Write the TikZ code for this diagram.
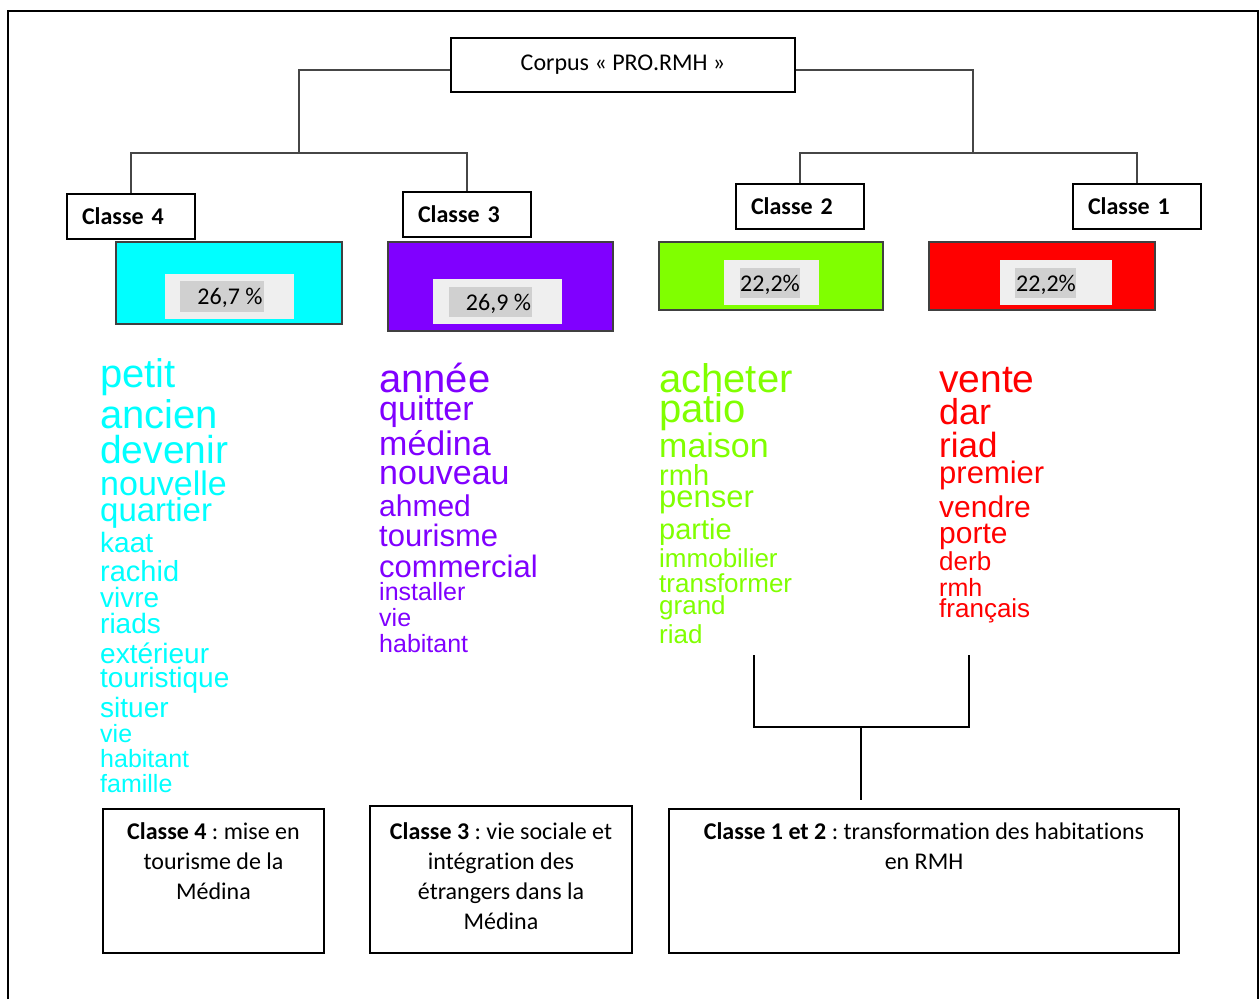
\documentclass[tikz,border=0pt]{standalone}
\usepackage{fontspec}
\setmainfont{Carlito}[Ligatures=NoCommon]
\newfontfamily\cloudfont{Liberation Sans}
\usetikzlibrary{positioning, calc}
\definecolor{cls4}{RGB}{0,255,255}
\definecolor{cls3}{RGB}{128,0,255}
\definecolor{cls2}{RGB}{128,255,0}
\definecolor{cls1}{RGB}{255,0,0}
\definecolor{lightpanel}{RGB}{239,239,239}
\definecolor{midpanel}{RGB}{208,208,208}
\definecolor{treegray}{RGB}{70,70,70}
\frenchspacing

\begin{document}
\begin{tikzpicture}[x=1pt, y=-1pt, every node/.style={font=\fontsize{24}{30}\selectfont},
  tree/.style={draw=treegray, line width=1.6pt},
  classbox/.style={draw, line width=1.6pt, fill=white, text width=98pt, inner xsep=15pt,
        minimum height=45pt, align=left, font=\fontsize{24}{30}\selectfont\bfseries},
  colbox/.style={draw=black!75, line width=1.2pt},
  panel/.style={fill=lightpanel, minimum width=#1, minimum height=45pt, inner sep=0pt},
  word/.style={anchor=base west, inner sep=0pt},
  sumbox/.style={draw, line width=1.6pt},
  sumtext/.style={align=center, inner sep=0pt}]
  \useasboundingbox (0,0) rectangle (1260,999);
  \draw[line width=1.6pt] (8,999) -- (8,11) -- (1258,11) -- (1258,999);

  % tree
  \node[draw, line width=1.6pt, minimum width=344pt, minimum height=54pt] (corpus) at (623,65) {Corpus « PRO.RMH »};
  \node[classbox] (c4) at (131,216.5) {Classe 4};
  \node[classbox] (c3) at (467,214.5) {Classe 3};
  \node[classbox] (c2) at (800,206.5) {Classe 2};
  \node[classbox] (c1) at (1137,206.5) {Classe 1};
  \coordinate (split43) at (299,153);
  \coordinate (split21) at (973,153);
  \draw[tree] ([yshift=-5pt]corpus.west) -| (split43);
  \draw[tree] ([yshift=-5pt]corpus.east) -| (split21);
  \draw[tree] (c4.north) |- (split43) -| (c3.north);
  \draw[tree] (c2.north) |- (split21) -| (c1.north);

  % percentages
  \node[colbox, fill=cls4, minimum width=226pt, minimum height=82pt] (p4) at (229,283) {};
  \node[panel=129pt] (p4l) at (229.5,296.5) {};
  \node[fill=midpanel, minimum width=84pt, minimum height=31pt, inner sep=0pt] (p4m) at (222,296.5) {};
  \node (p4t) at (230,297.5) {26,7 \%};

  \node[colbox, fill=cls3, minimum width=225pt, minimum height=89pt] (p3) at (500.5,286.5) {};
  \node[panel=129pt] (p3l) at (497.5,301.5) {};
  \node[fill=midpanel, minimum width=83pt, minimum height=30pt, inner sep=0pt] (p3m) at (490.5,302) {};
  \node (p3t) at (498.5,303.5) {26,9 \%};

  \node[colbox, fill=cls2, minimum width=224pt, minimum height=68pt] (p2) at (771,276) {};
  \node[panel=95pt] (p2l) at (771.5,282.5) {};
  \node[fill=midpanel, minimum width=60pt, minimum height=30pt, inner sep=0pt] (p2m) at (770,283) {};
  \node (p2t) at (770,284.5) {22,2\%};

  \node[colbox, fill=cls1, minimum width=226pt, minimum height=68pt] (p1) at (1042,276) {};
  \node[panel=112pt] (p1l) at (1056,282.5) {};
  \node[fill=midpanel, minimum width=61pt, minimum height=30pt, inner sep=0pt] (p1m) at (1045.5,283) {};
  \node (p1t) at (1046,284.5) {22,2\%};

  % word lists
  \foreach \w/\y/\s [count=\i] in {petit/387/40, ancien/428/40, devenir/463/39, nouvelle/495/34,
      quartier/521/33, kaat/552/28, rachid/581/29, vivre/607/28, riads/633/28, extérieur/663/28,
      touristique/687/28, situer/717/28, vie/742/25, habitant/767/25, famille/792/25}
    \node[word, text=cls4, font=\cloudfont\fontsize{\s}{\s}\selectfont] (w4-\i) at (100,\y) {\w};
  \foreach \w/\y/\s [count=\i] in {année/392/40, quitter/420/34, médina/455/34, nouveau/484/34,
      ahmed/516/30, tourisme/546/31, commercial/577/31, installer/600/25, vie/626/25, habitant/652/25}
    \node[word, text=cls3, font=\cloudfont\fontsize{\s}{\s}\selectfont] (w3-\i) at (379,\y) {\w};
  \foreach \w/\y/\s [count=\i] in {acheter/392/40, patio/422/40, maison/457/34, rmh/485/29,
      penser/507/31, partie/539/29, immobilier/567/26, transformer/592/26, grand/614/26, riad/643/26}
    \node[word, text=cls2, font=\cloudfont\fontsize{\s}{\s}\selectfont] (w2-\i) at (659,\y) {\w};
  \foreach \w/\y/\s [count=\i] in {vente/392/39, dar/424/36, riad/457/35, premier/483/31,
      vendre/517/30, porte/543/30, derb/570/26, rmh/596/25, français/617/26}
    \node[word, text=cls1, font=\cloudfont\fontsize{\s}{\s}\selectfont] (w1-\i) at (939,\y) {\w};

  % bracket classes 1 and 2
  \coordinate (b2top) at (754,655);
  \coordinate (b1top) at (969,655);
  \coordinate (bjoin) at (861,727);
  \coordinate (bend) at (861,800);
  \draw[line width=1.6pt] (b2top) |- (bjoin) -| (b1top);
  \draw[line width=1.6pt] (bjoin) -- (bend);

  % summaries
  \node[sumbox, minimum width=221pt, minimum height=144pt] (s4) at (213.5,881) {};
  \node[sumtext, below=14pt of s4.north] (s4t) {\textbf{Classe 4} : mise en\\tourisme de la\\Médina};
  \node[sumbox, minimum width=262pt, minimum height=147pt] (s3) at (501,879.5) {};
  \node[sumtext, below=17pt of s3.north] (s3t) {\textbf{Classe 3} : vie sociale et\\intégration des\\étrangers dans la\\Médina};
  \node[sumbox, minimum width=510pt, minimum height=144pt] (s12) at (924,881) {};
  \node[sumtext, below=14pt of s12.north] (s12t) {\textbf{Classe 1 et 2} : transformation des habitations\\en RMH};
\end{tikzpicture}
\end{document}
